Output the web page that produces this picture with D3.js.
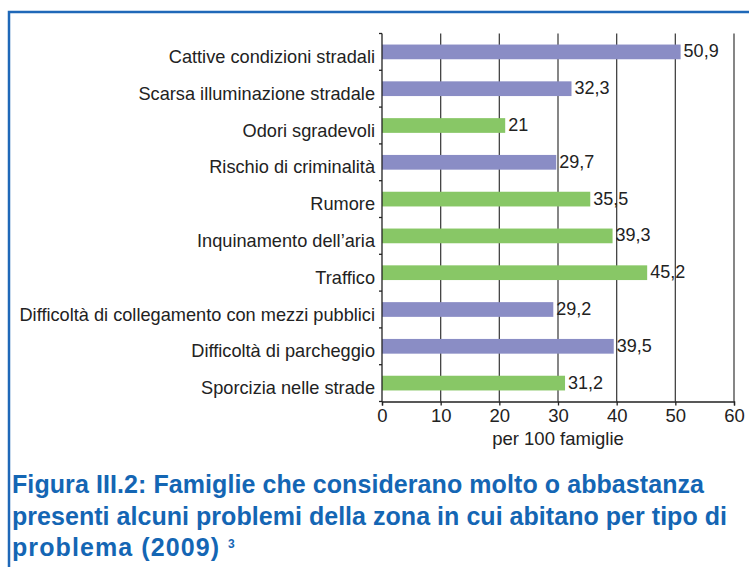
<!DOCTYPE html>
<html lang="it">
<head>
<meta charset="UTF-8">
<title>Figura III.2</title>
<script src="https://cdn.jsdelivr.net/npm/d3@7"></script>
<style>
  body { margin: 0; background: #fff; }
  text { font-family: "Liberation Sans", Arial, sans-serif; fill: #222; }
</style>
</head>
<body>
<script>
  // dati
  const categories = [
    'Cattive condizioni stradali',
    'Scarsa illuminazione stradale',
    'Odori sgradevoli',
    'Rischio di criminalità',
    'Rumore',
    "Inquinamento dell'aria",
    'Traffico',
    'Difficoltà di collegamento con mezzi pubblici',
    'Difficoltà di parcheggio',
    'Sporcizia nelle strade'
  ]
  const values = [50.9, 32.3, 21, 29.7, 35.5, 39.3, 45.2, 29.2, 39.5, 31.2]
  const groups = ['a', 'a', 'b', 'a', 'b', 'b', 'b', 'a', 'a', 'b']
  const xTicks = [0, 10, 20, 30, 40, 50, 60]
  const titleLines = [
    'Figura  III.2: Famiglie che considerano molto o abbastanza',
    'presenti  alcuni problemi della zona in cui abitano per tipo di',
    'problema (2009)'
  ]
  const titleWidths = [692, 715, 207]

  const [width, height] = [749, 567]
  const color = d3.scaleOrdinal().domain(['a', 'b']).range(['#8a8dc5', '#88c766'])

  const svg = d3.select('body').append('svg')
    .attr('width', width)
    .attr('height', height)

  // cornice blu
  svg.append('path')
    .attr('d', `M9,${height} V12 H${width}`)
    .attr('fill', 'none')
    .attr('stroke', '#1f68b8')
    .attr('stroke-width', 2.5)

  const x = d3.scaleLinear().domain([0, 60]).range([382, 734])
  const y = d3.scaleBand().domain(categories).range([33.5, 401.5])
    .paddingInner(0.6).paddingOuter(0.3)

  // griglia verticale
  svg.append('g').selectAll('line')
    .data(xTicks.slice(1))
    .enter().append('line')
    .attr('x1', d => x(d)).attr('x2', d => x(d))
    .attr('y1', 33.5).attr('y2', 401.5)
    .attr('stroke', '#444').attr('stroke-width', 1.3)

  // barre
  svg.append('g').selectAll('rect')
    .data(values)
    .enter().append('rect')
    .attr('x', x(0))
    .attr('y', (d, i) => y(categories[i]))
    .attr('width', d => x(d) - x(0))
    .attr('height', y.bandwidth())
    .attr('fill', (d, i) => color(groups[i]))

  // etichette valori
  svg.append('g').selectAll('text')
    .data(values)
    .enter().append('text')
    .attr('x', d => x(d) + 3)
    .attr('y', (d, i) => y(categories[i]) + y.bandwidth() / 2 + 5.5)
    .attr('font-size', 18)
    .text(d => String(d).replace('.', ','))

  // asse y
  const yAxis = svg.append('g').attr('transform', `translate(${x(0)},0)`)
  yAxis.append('line')
    .attr('x1', 0).attr('x2', 0).attr('y1', 33.5).attr('y2', 401.5)
    .attr('stroke', '#222').attr('stroke-width', 1.3)
  const bounds = categories.map(c => y(c) - y.step() * 0.3).concat([401.5])
  yAxis.selectAll('line.tk')
    .data(bounds)
    .enter().append('line').attr('class', 'tk')
    .attr('x1', -3).attr('x2', 0)
    .attr('y1', d => d).attr('y2', d => d)
    .attr('stroke', '#222').attr('stroke-width', 1.3)
  yAxis.selectAll('text')
    .data(categories)
    .enter().append('text')
    .attr('x', -7)
    .attr('y', d => y(d) + y.bandwidth() / 2 + 11)
    .attr('text-anchor', 'end')
    .attr('font-size', 18.2)
    .text(d => d.replace("'", '’'))

  // asse x
  const xAxis = svg.append('g')
    .attr('transform', 'translate(0,401.5)')
    .call(d3.axisBottom(x).tickValues(xTicks).tickSize(4).tickPadding(3))
  xAxis.select('.domain').attr('stroke', '#222').attr('stroke-width', 1.3)
  xAxis.selectAll('.tick line').attr('stroke', '#222').attr('stroke-width', 1.3)
  xAxis.selectAll('.tick text')
    .attr('font-size', 18.5).attr('fill', '#222')
    .style('font-family', '"Liberation Sans", Arial, sans-serif')

  svg.append('text')
    .attr('x', (x(0) + x(60)) / 2)
    .attr('y', 445)
    .attr('text-anchor', 'middle')
    .attr('font-size', 18.5)
    .text('per 100 famiglie')

  // titolo
  const title = svg.append('g')
  title.selectAll('text')
    .data(titleLines)
    .enter().append('text')
    .attr('x', 12)
    .attr('y', (d, i) => 493 + i * 31.5)
    .attr('font-size', 25)
    .attr('font-weight', 'bold')
    .attr('textLength', (d, i) => titleWidths[i])
    .attr('lengthAdjust', 'spacing')
    .style('fill', '#1466b4')
    .text(d => d)
  title.append('text')
    .attr('x', 228).attr('y', 548)
    .attr('font-size', 12).attr('font-weight', 'bold')
    .style('fill', '#1466b4')
    .text('3')
</script>
</body>
</html>
